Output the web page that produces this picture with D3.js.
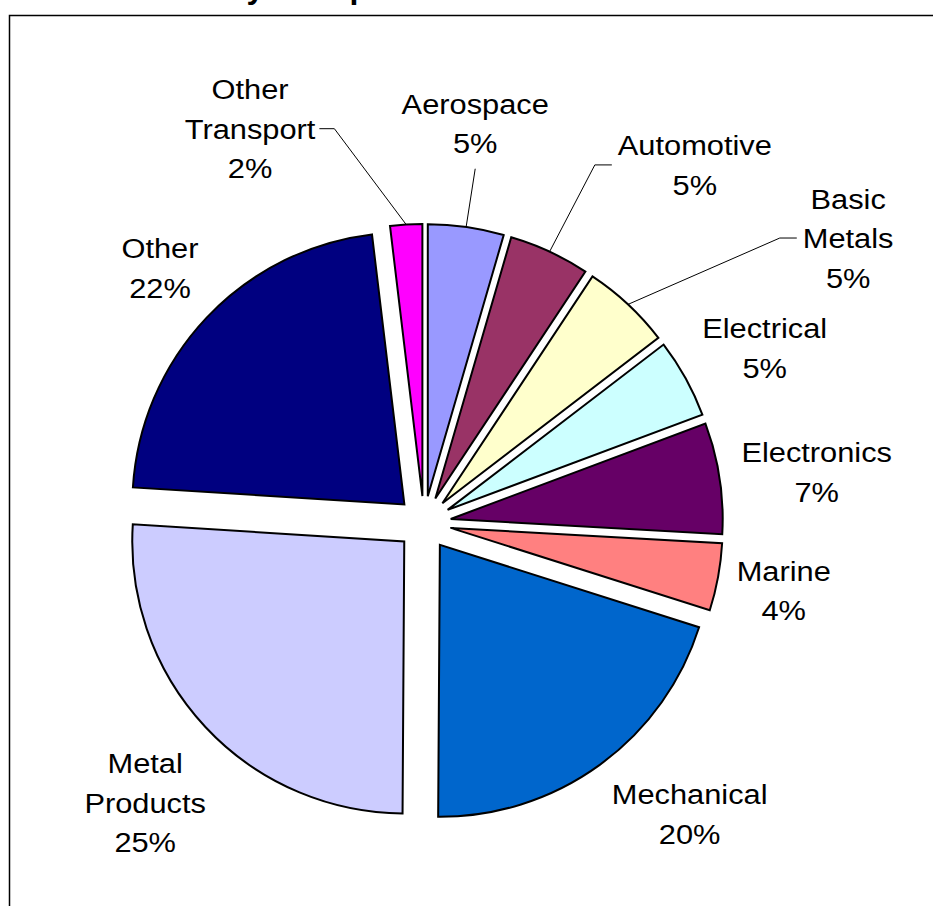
<!DOCTYPE html>
<html>
<head>
<meta charset="utf-8">
<script src="https://cdn.jsdelivr.net/npm/d3@7"></script>
<style>
  html, body { margin: 0; padding: 0; background: #fff; }
  svg { display: block; }
  text { font-family: "Liberation Sans", Arial, sans-serif; fill: #000; }
</style>
</head>
<body>
<div id="chart"></div>
<script>
// data (clockwise from 12 o'clock)
const categories = ["Aerospace", "Automotive", "Basic Metals", "Electrical", "Electronics",
                    "Marine", "Mechanical", "Metal Products", "Other", "Other Transport"];
const values = [4.5, 4.8, 5.3, 4.7, 6.6, 4.0, 20.2, 25.9, 22.1, 1.9];
const pctLabels = ["5%", "5%", "5%", "5%", "7%", "4%", "20%", "25%", "22%", "2%"];
const colors = ["#9999FF", "#993366", "#FFFFCC", "#CCFFFF", "#660066",
                "#FF8080", "#0066CC", "#CCCCFF", "#000080", "#FF00FF"];

// label placement (polar around pie centre: degrees, px) and leader side
const labelAngle  = [7.3, 37.1, 56.1, 62.8, 82.6, 100.6, 137.6, 224.9, 314, 336.2];
const labelRadius = [403, 449, 511, 383, 396, 366, 394, 395, 367, 431];
const leaderSide  = ["bottom", "left", "left", null, null, null, null, null, null, "right"];

const width = 933, height = 906;
const cx = 424, cy = 523, R = 272, explode = 27;
const fontSize = 28, lineH = 39.5, xStretch = 1.1;

const svg = d3.select("#chart").append("svg")
    .attr("width", width)
    .attr("height", height);

// chart title, cut off at the top edge (only descenders show)
svg.append("text")
    .attr("x", 138)
    .attr("y", -2)
    .style("font-size", "32px")
    .style("font-weight", "bold")
    .text("Industry Groups");

// chart area frame (runs off the right and bottom)
svg.append("path")
    .attr("d", `M9.5,${height} V15.5 H${width}`)
    .attr("fill", "none")
    .attr("stroke", "#000")
    .attr("stroke-width", 1.5);

const data = categories.map((c, i) => ({
    name: c, value: values[i], pct: pctLabels[i], color: colors[i],
    la: labelAngle[i], lr: labelRadius[i], side: leaderSide[i]
}));

const pie = d3.pie().sort(null).value(d => d.value);
const arcs = pie(data);

const arc = d3.arc().innerRadius(0).outerRadius(R);
const outerPt = d3.arc().innerRadius(R).outerRadius(R);

const root = svg.append("g").attr("transform", `translate(${cx},${cy})`);

// offset of each exploded slice
function shift(d) {
    const m = (d.startAngle + d.endAngle) / 2;
    return [explode * Math.sin(m), -explode * Math.cos(m)];
}

root.selectAll("path.slice")
    .data(arcs)
    .join("path")
    .attr("class", "slice")
    .attr("d", arc)
    .attr("transform", d => `translate(${shift(d)})`)
    .attr("fill", d => d.data.color)
    .attr("stroke", "#000")
    .attr("stroke-width", 2)
    .attr("stroke-linejoin", "miter");

// labels
const labels = root.selectAll("g.label")
    .data(arcs)
    .join("g")
    .attr("class", "label")
    .attr("transform", d => {
        const a = d.data.la * Math.PI / 180;
        const x = d.data.lr * Math.sin(a), y = -d.data.lr * Math.cos(a);
        return `translate(${x},${y}) scale(${xStretch},1)`;
    });

labels.each(function (d) {
    const lines = d.data.name.split(" ").concat([d.data.pct]);
    const n = lines.length;
    d3.select(this).selectAll("text")
        .data(lines)
        .join("text")
        .attr("text-anchor", "middle")
        .attr("x", 0)
        .attr("y", (t, i) => (i - (n - 1) / 2) * lineH + fontSize * 0.358)
        .style("font-size", fontSize + "px")
        .text(t => t);
});

// leader lines for the labels that were pulled away
const svgBox = svg.node().getBoundingClientRect();
labels.filter(d => d.data.side).each(function (d) {
    const b = this.getBoundingClientRect();
    const left = b.left - svgBox.left - cx, right = b.right - svgBox.left - cx;
    const top = b.top - svgBox.top - cy, bottom = b.bottom - svgBox.top - cy;
    const midY = (top + bottom) / 2;
    const s = shift(d);
    const p = outerPt.centroid(d);
    const end = [p[0] + s[0], p[1] + s[1]];
    let pts;
    if (d.data.side === "left") {
        pts = [[left - 6, midY], [left - 23, midY], end];
    } else if (d.data.side === "right") {
        pts = [[right + 4, midY], [right + 19, midY], end];
    } else {
        pts = [[(left + right) / 2, bottom + 10], end];
    }
    root.append("path")
        .attr("d", d3.line()(pts))
        .attr("fill", "none")
        .attr("stroke", "#000")
        .attr("stroke-width", 1);
});
</script>
</body>
</html>
